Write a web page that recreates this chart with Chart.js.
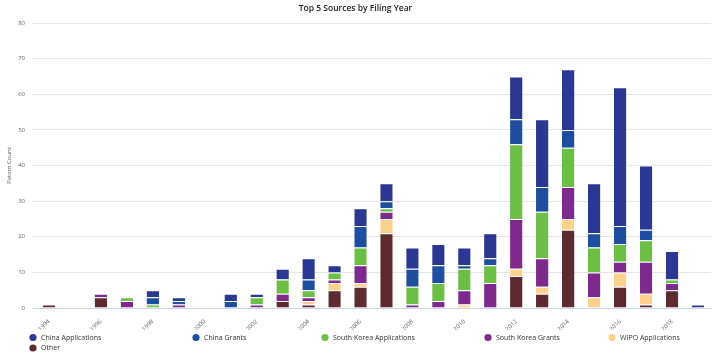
<!DOCTYPE html>
<html><head><meta charset="utf-8">
<script src="https://cdn.jsdelivr.net/npm/chart.js@4"></script>
<style>html,body{margin:0;padding:0;background:#fff}#wrap{width:722px;height:359px}</style>
</head><body><div id="wrap"><canvas id="c" width="722" height="359"></canvas></div>
<script>
const years = ['1994','1995','1996','1997','1998','1999','2000','2001','2002','2003','2004','2005','2006','2007','2008','2009','2010','2011','2012','2013','2014','2015','2016','2017','2018','2019'];
const other            = [1,0,3,0,0,0,0,0,0,2,1,5,6,21,0,0,0,0,9,4,22,0,6,1,5,0];
const wipoApps         = [0,0,0,0,0,0,0,0,0,0,1,2,1,4,0,0,1,0,2,2,3,3,4,3,0,0];
const southKoreaGrants = [0,0,1,2,0,1,0,0,1,2,1,1,5,2,1,2,4,7,14,8,9,7,3,9,2,0];
const southKoreaApps   = [0,0,0,1,1,0,0,0,2,4,2,2,5,1,5,5,6,5,21,13,11,7,5,6,1,0];
const chinaGrants      = [0,0,0,0,2,1,0,2,0,0,3,0,6,2,5,5,1,2,7,7,5,4,5,3,0,0];
const chinaApps        = [0,0,0,0,2,1,0,2,1,3,6,2,5,5,6,6,5,7,12,19,17,14,39,18,8,1];
const yTicks = [0,10,20,30,40,50,60,70,80];

const legendPlugin = {
  id: 'customLegend',
  afterDraw(chart) {
    const ctx = chart.ctx;
    const cols = [29, 192, 321, 484, 608];
    const items = chart.data.datasets.slice().reverse();
    ctx.save();
    ctx.font = '7px "Open Sans"';
    ctx.textBaseline = 'middle';
    ctx.textAlign = 'left';
    items.forEach((ds, i) => {
      const row = Math.floor(i / 5), col = i % 5;
      const x = cols[col], y = 337.5 + row * 10.5;
      ctx.beginPath();
      ctx.arc(x + 4, y, 3.6, 0, Math.PI * 2);
      ctx.fillStyle = ds.backgroundColor;
      ctx.fill();
      ctx.fillStyle = '#333333';
      ctx.fillText(ds.label, x + 12, y);
    });
    ctx.restore();
  }
};

const mk = (label, data, color) => ({
  label, data, backgroundColor: color,
  borderColor: '#ffffff', borderWidth: {top: 1}, borderSkipped: 'start',
  categoryPercentage: 1.0, barPercentage: 0.48
});

new Chart(document.getElementById('c'), {
  type: 'bar',
  data: {
    labels: years,
    datasets: [
      mk('Other', other, '#5c2a2f'),
      mk('WIPO Applications', wipoApps, '#fdd08c'),
      mk('South Korea Grants', southKoreaGrants, '#7d2a8c'),
      mk('South Korea Applications', southKoreaApps, '#6cbf45'),
      mk('China Grants', chinaGrants, '#1d4e9f'),
      mk('China Applications', chinaApps, '#2c3793')
    ]
  },
  plugins: [legendPlugin],
  options: {
    responsive: false,
    animation: false,
    layout: {padding: {left: 0, right: 11, top: 0, bottom: 29}},
    plugins: {
      legend: {display: false},
      tooltip: {enabled: false},
      title: {
        display: true, text: 'Top 5 Sources by Filing Year',
        color: '#222', font: {family: '"Open Sans"', size: 8.5, weight: '600', lineHeight: 1.2},
        padding: {top: 3, bottom: 9.8}
      }
    },
    scales: {
      x: {
        stacked: true,
        grid: {display: false},
        border: {display: true, color: '#ccd6eb'},
        ticks: {
          autoSkip: false, minRotation: 45, maxRotation: 45, padding: 2,
          color: '#666', font: {family: '"Open Sans"', size: 6},
          callback: (v, i) => (i % 2 === 0 ? years[i] : '')
        },
        afterFit: s => { s.height = 22; }
      },
      y: {
        stacked: true, min: 0, max: 80,
        afterBuildTicks: s => { s.ticks = yTicks.map(v => ({value: v})); },
        grid: {color: '#e6e6e6', tickLength: 4, tickColor: '#e6e6e6'},
        border: {display: false},
        ticks: {color: '#666', padding: 7, font: {family: '"Open Sans"', size: 6}},
        title: {display: true, text: 'Patent Count', color: '#666', font: {family: '"Open Sans"', size: 6}, padding: {top: 6, bottom: 0}},
        afterFit: s => { s.width = 36; }
      }
    }
  }
});
</script>
</body></html>
